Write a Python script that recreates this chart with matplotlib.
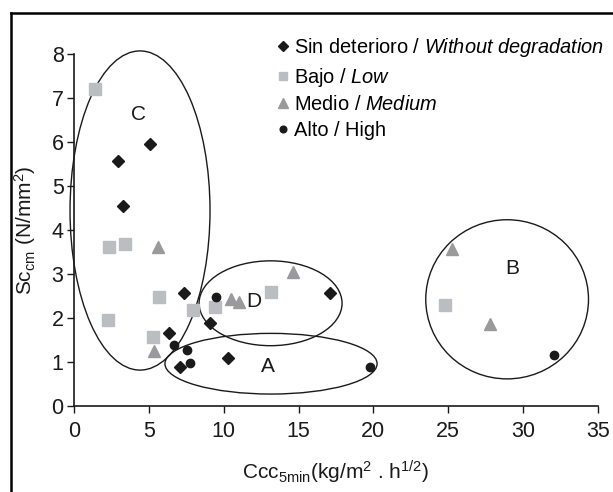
import matplotlib
matplotlib.use('Agg')
import matplotlib.pyplot as plt
from matplotlib.patches import Ellipse
from matplotlib.lines import Line2D

plt.rcParams['font.family'] = ['Liberation Sans', 'DejaVu Sans']
plt.rcParams['mathtext.fontset'] = 'custom'
plt.rcParams['mathtext.rm'] = 'Liberation Sans'
plt.rcParams['mathtext.it'] = 'Liberation Sans:italic'

# Sin deterioro / Without degradation
sin_x = [5.08, 2.96, 3.27, 7.35, 6.35, 7.08, 9.06, 10.27, 17.12]
sin_y = [5.95, 5.57, 4.54, 2.57, 1.66, 0.89, 1.87, 1.08, 2.56]
# Bajo / Low
bajo_x = [1.40, 2.36, 3.43, 2.29, 5.66, 5.30, 7.93, 9.40, 13.18, 24.80]
bajo_y = [7.20, 3.60, 3.68, 1.95, 2.47, 1.56, 2.18, 2.24, 2.59, 2.28]
# Medio / Medium
medio_x = [5.59, 5.37, 10.47, 11.00, 14.63, 25.23, 27.79]
medio_y = [3.60, 1.24, 2.43, 2.37, 3.03, 3.56, 1.85]
# Alto / High
alto_x = [9.49, 6.70, 7.57, 7.73, 19.79, 32.08]
alto_y = [2.48, 1.38, 1.27, 0.98, 0.87, 1.15]

# group ellipses: label, centre x, centre y, width, height, label x, label y
groups = ['C', 'D', 'A', 'B']
ell_cx = [4.41, 13.13, 13.16, 28.93]
ell_cy = [4.44, 2.33, 0.955, 2.42]
ell_w = [9.35, 9.55, 14.17, 10.87]
ell_h = [7.26, 1.93, 1.38, 3.62]
lab_x = [4.3, 12.0, 12.94, 29.28]
lab_y = [6.63, 2.37, 0.90, 3.11]

fig = plt.figure(figsize=(6.13, 4.92), dpi=100)
ax = fig.add_axes([74 / 613, 1 - 405.7 / 492, (598 - 74) / 613, (405.7 - 54) / 492])

ax.plot(sin_x, sin_y, 'D', color='#1a1a1a', ms=6.5, ls='none',
        label='Sin deterioro / $\\mathit{Without\\ degradation}$')
ax.plot(bajo_x, bajo_y, 's', color='#bcbdc0', ms=8, ls='none',
        label='Bajo / $\\mathit{Low}$')
ax.plot(medio_x, medio_y, '^', color='#9a9a9c', ms=8.5, ls='none',
        label='Medio / $\\mathit{Medium}$')
ax.plot(alto_x, alto_y, 'o', color='#1a1a1a', ms=6, ls='none',
        label='Alto / High')

for g, cx, cy, w, h, lx, ly in zip(groups, ell_cx, ell_cy, ell_w, ell_h, lab_x, lab_y):
    ax.add_patch(Ellipse((cx, cy), w, h, fill=False, ec='#1a1a1a', lw=1.0, clip_on=False))
    ax.text(lx, ly, g, fontsize=15, ha='center', va='center', color='#1a1a1a')

ax.set_xlim(0, 35)
ax.set_ylim(0, 8)
ax.set_xticks(range(0, 36, 5))
ax.set_yticks(range(0, 9))
ax.tick_params(labelsize=15.5, length=5, width=1, colors='#1a1a1a')
ax.tick_params(axis='x', pad=6)
ax.tick_params(axis='y', pad=2.5)
for s in ['top', 'right']:
    ax.spines[s].set_visible(False)
for s in ['left', 'bottom']:
    ax.spines[s].set_linewidth(1.2)
    ax.spines[s].set_color('#1a1a1a')

ax.set_xlabel('Ccc$_{\\mathrm{5min}}$(kg/m$^{2}$ . h$^{1/2}$)', fontsize=15, labelpad=12, color='#1a1a1a')
ax.set_ylabel('Sc$_{\\mathrm{cm}}$ (N/mm$^{2}$)', fontsize=15, labelpad=10, color='#1a1a1a')

ax.legend(loc='upper left', bbox_to_anchor=(278 / 613, 1 - 36 / 492), bbox_transform=fig.transFigure,
          frameon=False, fontsize=14.4, handlelength=0.5, handletextpad=0.3,
          borderpad=0, borderaxespad=0, labelspacing=0.33, markerscale=0.8)

# outer frame (left and top edges)
fig.add_artist(Line2D([11 / 613, 11 / 613], [0, 1 - 13 / 492], color='black', lw=1.8))
fig.add_artist(Line2D([11 / 613, 1], [1 - 13 / 492, 1 - 13 / 492], color='black', lw=1.8))

fig.savefig('out.png', dpi=100)
